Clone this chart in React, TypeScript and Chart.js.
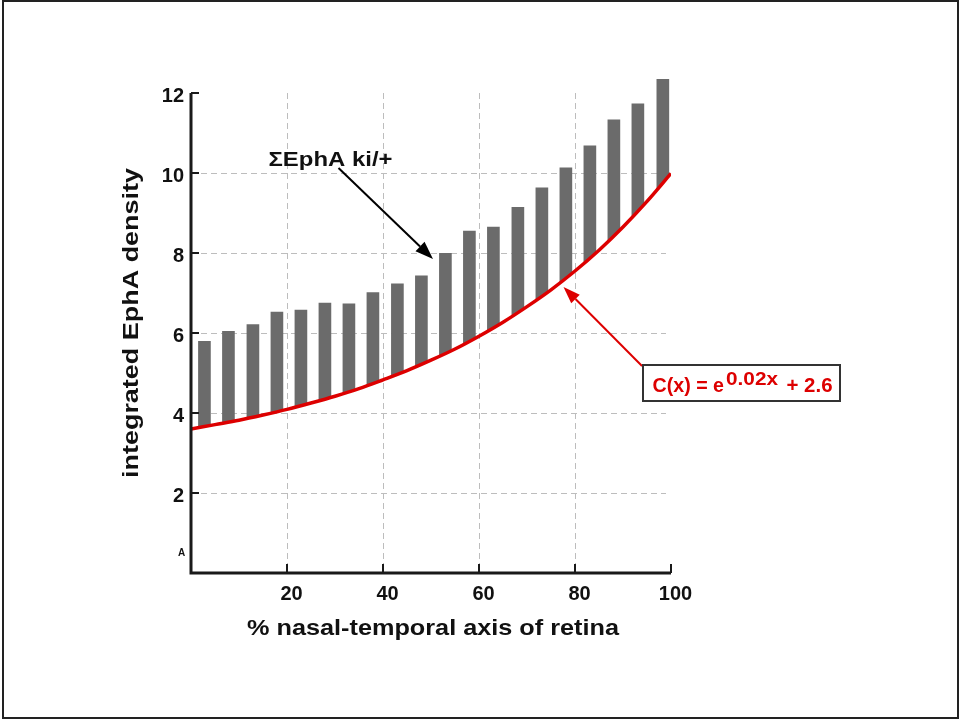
import React, { useEffect, useRef } from 'react';
import { Chart, registerables } from 'chart.js';

Chart.register(...registerables);

// ---- data ----
const barPositions = [2.8, 7.8, 12.9, 17.9, 22.9, 27.9, 32.9, 37.9, 43.0, 48.0, 53.0, 58.0, 63.0, 68.1, 73.1, 78.1, 83.1, 88.1, 93.1, 98.3];
const ephaTotals = [5.79, 6.04, 6.21, 6.52, 6.57, 6.75, 6.73, 7.01, 7.23, 7.43, 7.99, 8.55, 8.65, 9.14, 9.63, 10.13, 10.68, 11.33, 11.73, 12.34];
const curveX = [0, 5, 10, 15, 20, 25, 30, 35, 40, 45, 50, 55, 60, 65, 70, 75, 80, 85, 90, 95, 100];
const curveY = [3.6, 3.71, 3.82, 3.95, 4.09, 4.25, 4.42, 4.61, 4.83, 5.06, 5.32, 5.6, 5.92, 6.27, 6.66, 7.08, 7.55, 8.07, 8.65, 9.29, 9.99];
const xTickValues = [20, 40, 60, 80, 100];
const yTickValues = [2, 4, 6, 8, 10, 12];
const xGridValues = [20, 40, 60, 80];
const yGridValues = [2, 4, 6, 8, 10];

const xTitle = '% nasal-temporal axis of retina';
const yTitle = 'integrated EphA density';
const barLabel = '\u03A3EphA ki/+';
const curveLabelMain = 'C(x) = e';
const curveLabelSup = '0.02x';
const curveLabelTail = '+ 2.6';
const cornerLabel = 'A';

const FONT = '"Liberation Sans", Arial, Helvetica, sans-serif';

function fittedText(ctx: CanvasRenderingContext2D, text: string, x: number, y: number, size: number, width: number | null, align: 'left' | 'center' = 'left') {
  ctx.save();
  ctx.font = `bold ${size}px ${FONT}`;
  ctx.textBaseline = 'alphabetic';
  ctx.textAlign = 'left';
  const w = ctx.measureText(text).width;
  const sx = width ? width / w : 1;
  const startX = align === 'center' ? x - (w * sx) / 2 : x;
  ctx.translate(startX, y);
  ctx.scale(sx, 1);
  ctx.fillText(text, 0, 0);
  ctx.restore();
}

function drawArrow(ctx: CanvasRenderingContext2D, x1: number, y1: number, x2: number, y2: number, color: string, lw: number, hl: number, hw: number) {
  const a = Math.atan2(y2 - y1, x2 - x1);
  const bx = x2 - hl * Math.cos(a);
  const by = y2 - hl * Math.sin(a);
  ctx.save();
  ctx.strokeStyle = color;
  ctx.lineWidth = lw;
  ctx.beginPath();
  ctx.moveTo(x1, y1);
  ctx.lineTo(bx, by);
  ctx.stroke();
  ctx.fillStyle = color;
  ctx.beginPath();
  ctx.moveTo(x2, y2);
  ctx.lineTo(bx + hw * Math.sin(a), by - hw * Math.cos(a));
  ctx.lineTo(bx - hw * Math.sin(a), by + hw * Math.cos(a));
  ctx.closePath();
  ctx.fill();
  ctx.restore();
}

const decorPlugin = {
  id: 'decor',
  beforeDatasetsDraw(chart: any) {
    const { ctx, chartArea } = chart;
    const xs = chart.scales.x;
    const ys = chart.scales.y;
    ctx.save();
    ctx.strokeStyle = '#bdbdbd';
    ctx.lineWidth = 1;
    ctx.setLineDash([6, 4]);
    for (const v of yGridValues) {
      const py = Math.round(ys.getPixelForValue(v)) + 0.5;
      ctx.beginPath();
      ctx.moveTo(chartArea.left, py);
      ctx.lineTo(chartArea.right - 5, py);
      ctx.stroke();
    }
    for (const v of xGridValues) {
      const px = Math.round(xs.getPixelForValue(v)) + 0.5;
      ctx.beginPath();
      ctx.moveTo(px, chartArea.top);
      ctx.lineTo(px, chartArea.bottom);
      ctx.stroke();
    }
    ctx.restore();
  },
  beforeDatasetDraw(chart: any, args: any) {
    if (args.index !== 0) return;
    const ctx = chart.ctx;
    const pts = chart.getDatasetMeta(1).data;
    ctx.save();
    ctx.beginPath();
    ctx.moveTo(pts[0].x - 10, pts[0].y);
    for (const p of pts) ctx.lineTo(p.x, p.y);
    ctx.lineTo(pts[pts.length - 1].x + 10, pts[pts.length - 1].y);
    ctx.lineTo(pts[pts.length - 1].x + 10, 0);
    ctx.lineTo(pts[0].x - 10, 0);
    ctx.closePath();
    ctx.clip();
  },
  afterDatasetDraw(chart: any, args: any) {
    if (args.index !== 0) return;
    chart.ctx.restore();
  },
  afterDatasetsDraw(chart: any) {
    const { ctx, chartArea } = chart;
    const xs = chart.scales.x;
    const ys = chart.scales.y;
    ctx.save();
    // axes
    ctx.strokeStyle = '#1a1a1a';
    ctx.lineWidth = 3;
    ctx.lineCap = 'butt';
    ctx.beginPath();
    ctx.moveTo(chartArea.left, ys.getPixelForValue(12));
    ctx.lineTo(chartArea.left, chartArea.bottom + 1.5);
    ctx.moveTo(chartArea.left - 1.5, chartArea.bottom);
    ctx.lineTo(xs.getPixelForValue(100), chartArea.bottom);
    ctx.stroke();
    // inward ticks
    ctx.lineWidth = 2;
    ctx.beginPath();
    for (const v of yTickValues) {
      const py = ys.getPixelForValue(v);
      ctx.moveTo(chartArea.left, py);
      ctx.lineTo(chartArea.left + 8, py);
    }
    for (const v of xTickValues) {
      const px = xs.getPixelForValue(v);
      ctx.moveTo(px, chartArea.bottom);
      ctx.lineTo(px, chartArea.bottom - 9);
    }
    ctx.stroke();
    ctx.restore();

    ctx.save();
    ctx.fillStyle = '#111';
    // axis titles
    fittedText(ctx, xTitle, 433, 634.5, 22, 372, 'center');
    ctx.save();
    ctx.translate(137.5, 323);
    ctx.rotate(-Math.PI / 2);
    fittedText(ctx, yTitle, 0, 0, 22, 310, 'center');
    ctx.restore();
    // corner label
    ctx.font = `bold 10px ${FONT}`;
    ctx.textAlign = 'center';
    ctx.textBaseline = 'middle';
    ctx.fillText(cornerLabel, 181.5, 553);
    // bar annotation
    fittedText(ctx, barLabel, 268.5, 166, 21, 124);
    drawArrow(ctx, 338.5, 168, 433, 259, '#000', 2, 18, 6.5);
    // curve annotation
    drawArrow(ctx, 642, 366, 563.5, 287, '#dd0000', 2, 17, 6);
    ctx.fillStyle = '#fff';
    ctx.fillRect(643, 365, 197, 36);
    ctx.strokeStyle = '#333';
    ctx.lineWidth = 2;
    ctx.strokeRect(643, 365, 197, 36);
    ctx.fillStyle = '#dd0000';
    fittedText(ctx, curveLabelMain, 652.5, 392, 20, 71.5);
    fittedText(ctx, curveLabelSup, 726, 385, 18, 52);
    fittedText(ctx, curveLabelTail, 786.5, 392, 20, 46);
    // outer frame
    ctx.strokeStyle = '#222';
    ctx.lineWidth = 2;
    ctx.strokeRect(3, 1, 955, 717);
    ctx.restore();
  },
};

export default function App() {
  const ref = useRef<HTMLCanvasElement>(null);
  useEffect(() => {
    Chart.defaults.font.family = FONT;
    const chart = new Chart(ref.current as HTMLCanvasElement, {
      type: 'bar',
      data: {
        datasets: [
          {
            type: 'bar',
            label: barLabel,
            data: barPositions.map((x, i) => ({ x, y: ephaTotals[i] })),
            backgroundColor: '#6b6b6b',
            borderWidth: 0,
            barThickness: 12,
            clip: false,
            order: 2,
          } as any,
          {
            type: 'line',
            label: 'C(x)',
            data: curveX.map((x, i) => ({ x, y: curveY[i] })),
            borderColor: '#dd0000',
            borderWidth: 3.5,
            pointRadius: 0,
            cubicInterpolationMode: 'monotone',
            fill: false,
            order: 1,
          } as any,
        ],
      },
      options: {
        responsive: false,
        animation: false,
        devicePixelRatio: 1,
        layout: { padding: { left: 0, top: 93, right: 288, bottom: 0 } },
        plugins: { legend: { display: false }, tooltip: { enabled: false } },
        scales: {
          x: {
            type: 'linear',
            min: 0,
            max: 100,
            offset: false,
            grid: { display: false, drawTicks: false },
            border: { display: false },
            ticks: {
              stepSize: 20,
              autoSkip: false,
              maxRotation: 0,
              padding: 9,
              labelOffset: 4.5,
              color: '#111',
              font: { size: 20, weight: 'bold' },
              callback: (v: any) => (xTickValues.includes(Number(v)) ? String(v) : ''),
            },
            afterFit: (s: any) => {
              s.height = 146;
            },
          },
          y: {
            min: 0,
            max: 12,
            grid: { display: false, drawTicks: false },
            border: { display: false },
            ticks: {
              stepSize: 2,
              autoSkip: false,
              padding: 7,
              labelOffset: 3.5,
              color: '#111',
              font: { size: 20, weight: 'bold' },
              callback: (v: any) => (yTickValues.includes(Number(v)) ? String(v) : ''),
            },
            afterFit: (s: any) => {
              s.width = 191;
            },
          },
        },
      } as any,
      plugins: [decorPlugin],
    });
    return () => chart.destroy();
  }, []);
  return (
    <div style={{ position: 'fixed', left: 0, top: 0, width: 959, height: 719, background: '#fff' }}>
      <canvas ref={ref} width={959} height={719} style={{ display: 'block', width: 959, height: 719 }} />
    </div>
  );
}
